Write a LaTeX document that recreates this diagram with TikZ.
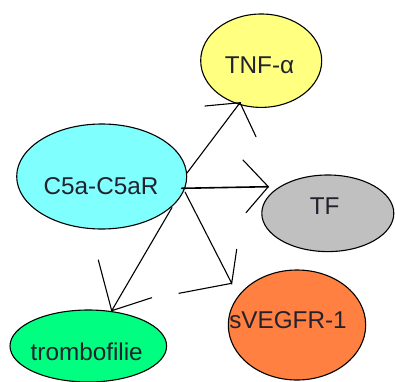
\documentclass[tikz,border=0pt]{standalone}
\usepackage{fontspec}
\setmainfont{Liberation Sans}
\usetikzlibrary{calc,shapes.geometric}

\definecolor{cTNF}{HTML}{FFFF80}
\definecolor{cC5a}{HTML}{80FFFF}
\definecolor{cTF}{HTML}{C0C0C0}
\definecolor{cVEG}{HTML}{FF8040}
\definecolor{cTROM}{HTML}{00FF80}
\definecolor{ink}{HTML}{22222E}

\tikzset{
  blob/.style={ellipse, draw=black, line width=1.1pt, inner sep=0pt},
  lbl/.style={inner sep=0pt, text=ink, font=\fontsize{24.3}{28}\selectfont},
  link/.style={draw=black, line width=1.1pt, line cap=round},
}

\begin{document}
\begin{tikzpicture}[x=1pt, y=1pt]
\useasboundingbox (0,0) rectangle (395,381);
\clip (0,0) rectangle (395,381);
\fill[white] (0,0) rectangle (395,381);

% ellipses
\node[blob, fill=cTNF,  minimum width=121pt,   minimum height=93.4pt] (tnf)   at (261.2,320.3) {};
\node[blob, fill=cC5a,  minimum width=170pt,   minimum height=105pt]  (c5a)   at (101.7,204.5) {};
\node[blob, fill=cTF,   minimum width=132pt,   minimum height=76.6pt] (tf)    at (327.8,167.7) {};
\node[blob, fill=cVEG,  minimum width=137.4pt, minimum height=110pt]  (veg)   at (297,56)      {};
\node[blob, fill=cTROM, minimum width=156.6pt, minimum height=72pt]   (trom)  at (88.3,35)     {};

% labels
\node[lbl] (tnfT)  at ($(tnf)+(-1.7,-5)$)  {TNF-α};
\node[lbl] (c5aT)  at ($(c5a)+(-0.7,-10)$) {C5a-C5aR};
\node[lbl] (tfT)   at ($(tf)+(-3.1,7.3)$)  {TF};
\node[lbl] (vegT)  at ($(veg)+(-9,4.5)$)   {sVEGFR-1};
\node[lbl] (tromT) at ($(trom)+(-1.6,-6)$) {trombofilie};

% arrow tips
\coordinate (tipA) at ($(tnf)+(-21.2,-42)$);
\coordinate (tipB) at ($(tf)+(-59.5,26.6)$);
\coordinate (tipC) at ($(veg)+(-65.3,41.7)$);
\coordinate (tipD) at ($(trom)+(23.4,35.3)$);

% connectors with open barbs
\draw[link] ($(c5a)+(85.3,3.5)$) -- (tipA) -- +(-35,-3.3) (tipA) -- +(16,-34);
\draw[link, line width=1.6pt] ($(c5a)+(80,-11.8)$) -- (tipB);
\draw[link] (tipB) -- +(-25.3,26.7) (tipB) -- +(-22.3,-26);
\draw[link] ($(c5a)+(83.3,-15.5)$) -- (tipC) -- +(5,34) (tipC) -- +(-52.7,-10);
\draw[link] ($(c5a)+(70.3,-31)$) -- (tipD) -- +(-13.4,50.7) (tipD) -- +(40,13);
\end{tikzpicture}
\end{document}
